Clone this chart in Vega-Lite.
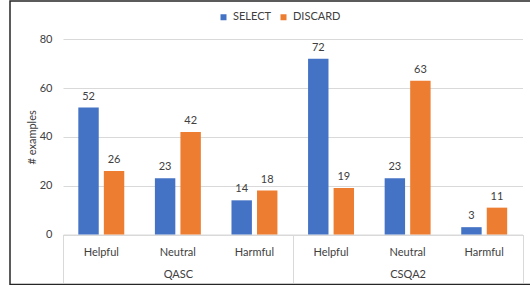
{
  "$schema": "https://vega.github.io/schema/vega-lite/v6.json",
  "width": 525,
  "height": 283.5,
  "autosize": {"type": "none"},
  "padding": {"left": 10, "top": 1, "right": -5, "bottom": 0},
  "background": "white",
  "config": {
    "font": "Lato",
    "view": {"stroke": "#262626", "strokeWidth": 1.5},
    "axis": {
      "labelFont": "Lato",
      "labelFontSize": 11,
      "labelColor": "#404040",
      "titleFont": "Lato",
      "titleFontSize": 11,
      "titleFontWeight": "normal",
      "titleColor": "#404040"
    }
  },
  "data": {
    "values": [
      {"dataset": "QASC", "category": "Helpful", "key": "QASC-Helpful", "series": "SELECT", "count": 52},
      {"dataset": "QASC", "category": "Helpful", "key": "QASC-Helpful", "series": "DISCARD", "count": 26},
      {"dataset": "QASC", "category": "Neutral", "key": "QASC-Neutral", "series": "SELECT", "count": 23},
      {"dataset": "QASC", "category": "Neutral", "key": "QASC-Neutral", "series": "DISCARD", "count": 42},
      {"dataset": "QASC", "category": "Harmful", "key": "QASC-Harmful", "series": "SELECT", "count": 14},
      {"dataset": "QASC", "category": "Harmful", "key": "QASC-Harmful", "series": "DISCARD", "count": 18},
      {"dataset": "CSQA2", "category": "Helpful", "key": "CSQA2-Helpful", "series": "SELECT", "count": 72},
      {"dataset": "CSQA2", "category": "Helpful", "key": "CSQA2-Helpful", "series": "DISCARD", "count": 19},
      {"dataset": "CSQA2", "category": "Neutral", "key": "CSQA2-Neutral", "series": "SELECT", "count": 23},
      {"dataset": "CSQA2", "category": "Neutral", "key": "CSQA2-Neutral", "series": "DISCARD", "count": 63},
      {"dataset": "CSQA2", "category": "Harmful", "key": "CSQA2-Harmful", "series": "SELECT", "count": 3},
      {"dataset": "CSQA2", "category": "Harmful", "key": "CSQA2-Harmful", "series": "DISCARD", "count": 11}
    ]
  },
  "layer": [
    {
      "layer": [
        {
          "mark": {"type": "bar"},
          "encoding": {
            "x": {
              "field": "key", "type": "nominal", "sort": null,
              "scale": {"range": [53, 512.5], "paddingInner": 0, "paddingOuter": 0},
              "axis": {
                "orient": "bottom", "offset": -50, "title": null, "ticks": false,
                "domainColor": "#d9d9d9", "labelPadding": 11.5, "labelAngle": 0,
                "labelExpr": "split(datum.label, '-')[1]"
              }
            },
            "xOffset": {
              "field": "series", "type": "nominal", "sort": ["SELECT", "DISCARD"],
              "scale": {"paddingInner": 0.2, "paddingOuter": 0.6}
            },
            "y": {
              "field": "count", "type": "quantitative",
              "scale": {"domain": [0, 80], "range": [233.5, 38.2], "nice": false},
              "axis": {
                "values": [0, 20, 40, 60, 80], "title": "# examples", "offset": -53,
                "domain": false, "ticks": false, "grid": true, "gridColor": "#d9d9d9",
                "labelPadding": 11, "titlePadding": 2
              }
            },
            "color": {
              "field": "series", "type": "nominal",
              "scale": {"domain": ["SELECT", "DISCARD"], "range": ["#4472C4", "#ED7D31"]},
              "legend": {
                "orient": "none", "legendX": 208, "legendY": 10.5, "direction": "horizontal",
                "title": null, "symbolType": "square", "symbolSize": 36, "symbolStrokeWidth": 0,
                "labelFont": "Lato", "labelFontSize": 11, "labelColor": "#404040",
                "labelOffset": 4, "columnPadding": 7, "padding": 0
              }
            }
          }
        },
        {
          "mark": {"type": "text", "dy": -8, "baseline": "alphabetic", "fontSize": 11, "font": "Lato", "color": "#404040"},
          "encoding": {
            "x": {"field": "key", "type": "nominal", "sort": null},
            "xOffset": {"field": "series", "type": "nominal", "sort": ["SELECT", "DISCARD"]},
            "y": {"field": "count", "type": "quantitative"},
            "text": {"field": "count", "type": "quantitative"}
          }
        }
      ]
    },
    {
      "mark": {"type": "point", "opacity": 0},
      "encoding": {
        "x": {
          "field": "dataset", "type": "nominal", "sort": null,
          "scale": {"range": [53, 512.5], "paddingInner": 0, "paddingOuter": 0},
          "axis": {
            "orient": "bottom", "offset": -50, "title": null, "domain": false,
            "tickBand": "extent", "tickSize": 48, "tickColor": "#d9d9d9",
            "labelPadding": -14, "labelAngle": 0
          }
        }
      }
    }
  ],
  "resolve": {"scale": {"x": "independent"}}
}
